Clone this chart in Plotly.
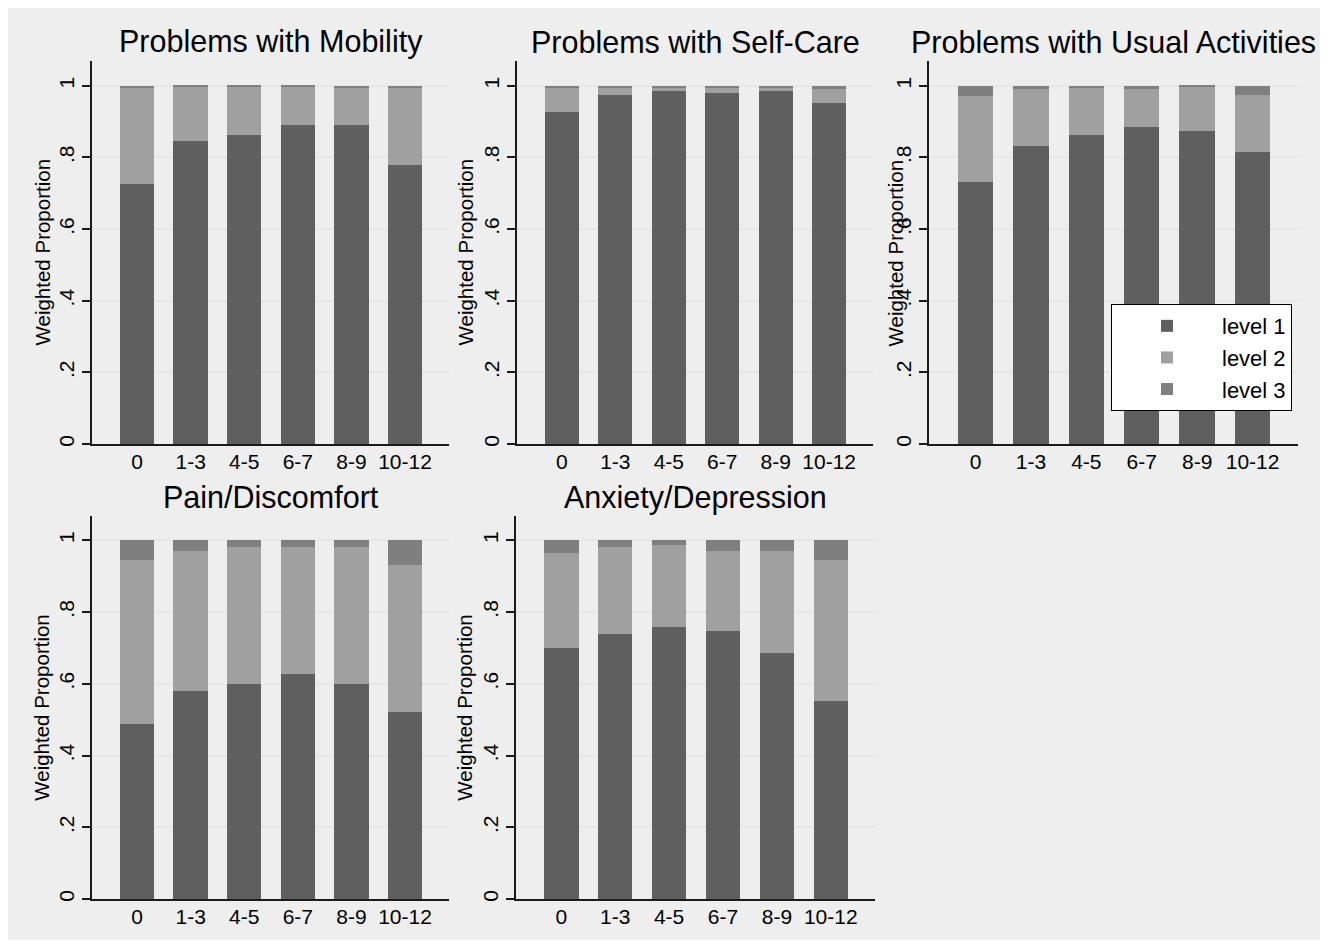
import plotly.graph_objects as go

# page is 1333x951; the html body adds an 8px margin, so the figure is shrunk
PAGE_W, PAGE_H = 1333, 951
OFF = 8
W, H = PAGE_W - 2 * OFF, PAGE_H - 2 * OFF

categories = ["0", "1-3", "4-5", "6-7", "8-9", "10-12"]
level_names = ["level 1", "level 2", "level 3"]
ytick_vals = [0, 0.2, 0.4, 0.6, 0.8, 1.0]
ytick_text = ["0", ".2", ".4", ".6", ".8", "1"]

# Problems with Mobility
mobility_l1 = [0.725, 0.847, 0.863, 0.890, 0.890, 0.778]
mobility_l2 = [0.269, 0.150, 0.134, 0.107, 0.104, 0.216]
mobility_l3 = [0.006, 0.003, 0.003, 0.003, 0.006, 0.006]

# Problems with Self-Care
selfcare_l1 = [0.926, 0.974, 0.985, 0.979, 0.985, 0.953]
selfcare_l2 = [0.068, 0.021, 0.009, 0.015, 0.009, 0.039]
selfcare_l3 = [0.006, 0.005, 0.006, 0.006, 0.006, 0.008]

# Problems with Usual Activities
usual_l1 = [0.731, 0.831, 0.863, 0.884, 0.874, 0.816]
usual_l2 = [0.239, 0.159, 0.131, 0.106, 0.123, 0.157]
usual_l3 = [0.030, 0.010, 0.006, 0.010, 0.003, 0.027]

# Pain/Discomfort
pain_l1 = [0.489, 0.579, 0.600, 0.627, 0.600, 0.521]
pain_l2 = [0.455, 0.391, 0.381, 0.354, 0.381, 0.411]
pain_l3 = [0.056, 0.030, 0.019, 0.019, 0.019, 0.068]

# Anxiety/Depression
anxiety_l1 = [0.701, 0.738, 0.758, 0.748, 0.685, 0.553]
anxiety_l2 = [0.264, 0.243, 0.228, 0.222, 0.285, 0.391]
anxiety_l3 = [0.035, 0.019, 0.014, 0.030, 0.030, 0.056]

panel_titles = ["Problems with Mobility", "Problems with Self-Care",
                "Problems with Usual Activities", "Pain/Discomfort",
                "Anxiety/Depression"]
panel_data = [
    (mobility_l1, mobility_l2, mobility_l3),
    (selfcare_l1, selfcare_l2, selfcare_l3),
    (usual_l1, usual_l2, usual_l3),
    (pain_l1, pain_l2, pain_l3),
    (anxiety_l1, anxiety_l2, anxiety_l3),
]

colors = ["#5f5f5f", "#a0a0a0", "#7f7f7f"]
FONT = "Liberation Sans, Arial, Helvetica, sans-serif"


def px(x):
    return (x - OFF) / W


def py(y):
    return 1 - (y - OFF) / H


# panel page-pixel boxes: (left, right, top, bottom, y-of-1.0)
boxes = [
    (92, 449, 61, 445.5, 86),
    (517, 873, 61, 445.5, 86),
    (929, 1298, 61, 445.5, 86),
    (92, 449, 518, 902, 542),
    (516, 875, 518, 902, 542),
]
ytitle_x = [42, 465, 895, 42, 465]

fig = go.Figure()
layout = dict(
    width=W, height=H,
    margin=dict(l=0, r=0, t=0, b=0),
    paper_bgcolor="white",
    plot_bgcolor="white",
    barmode="stack",
    bargap=0.36,
    font=dict(family=FONT, color="black"),
    showlegend=True,
    legend=dict(
        x=px(1111), y=py(305), xanchor="left", yanchor="top",
        orientation="v",
        bgcolor="white", bordercolor="black", borderwidth=1,
        font=dict(size=22, family=FONT), traceorder="normal",
        itemwidth=100, tracegroupgap=0,
    ),
)
annotations = []
shapes = [dict(type="rect", xref="paper", yref="paper",
               x0=0, x1=px(1320), y0=0, y1=1,
               fillcolor="#eeeeee", line=dict(width=0), layer="below")]

for i, (title, data, box) in enumerate(zip(panel_titles, panel_data, boxes)):
    left, right, top, bottom, one = box
    xa = "x" if i == 0 else f"x{i+1}"
    ya = "y" if i == 0 else f"y{i+1}"
    for k in range(3):
        fig.add_trace(go.Bar(
            x=categories, y=data[k], name=level_names[k],
            marker=dict(color=colors[k], line=dict(width=0)),
            xaxis=xa, yaxis=ya, legendgroup=level_names[k],
            showlegend=(i == 0),
        ))
    ymax = (bottom - top) / (bottom - one)
    layout["xaxis" if i == 0 else f"xaxis{i+1}"] = dict(
        domain=[px(left), px(right)], anchor=ya,
        type="category", range=[-0.84, 5.82],
        showline=True, linecolor="#1a1a1a", linewidth=1.5,
        ticks="", tickfont=dict(size=21, family=FONT),
        ticklabelstandoff=-2, showgrid=False, fixedrange=True,
    )
    layout["yaxis" if i == 0 else f"yaxis{i+1}"] = dict(
        domain=[py(bottom), py(top)], anchor=xa,
        range=[0, ymax], tickvals=ytick_vals, ticktext=ytick_text,
        tickangle=-90, ticks="outside", ticklen=8, tickwidth=1.5,
        tickcolor="#1a1a1a", tickfont=dict(size=21, family=FONT),
        showline=True, linecolor="#1a1a1a", linewidth=1.5,
        showgrid=True, gridcolor="#e6e6e6", gridwidth=1.5,
        zeroline=False, fixedrange=True,
    )
    annotations.append(dict(
        text=title, xref="paper", yref="paper",
        x=px((left + right) / 2), y=py(top - 19),
        xanchor="center", yanchor="middle", showarrow=False,
        font=dict(size=30.5, family=FONT, color="black"),
    ))
    annotations.append(dict(
        text="Weighted Proportion", xref="paper", yref="paper",
        x=px(ytitle_x[i]), y=py((top + bottom) / 2),
        xanchor="center", yanchor="middle", showarrow=False, textangle=-90,
        font=dict(size=20.5, family=FONT, color="black"),
    ))

layout["annotations"] = annotations
layout["shapes"] = shapes
fig.update_layout(**layout)
fig.write_html("out.html")
